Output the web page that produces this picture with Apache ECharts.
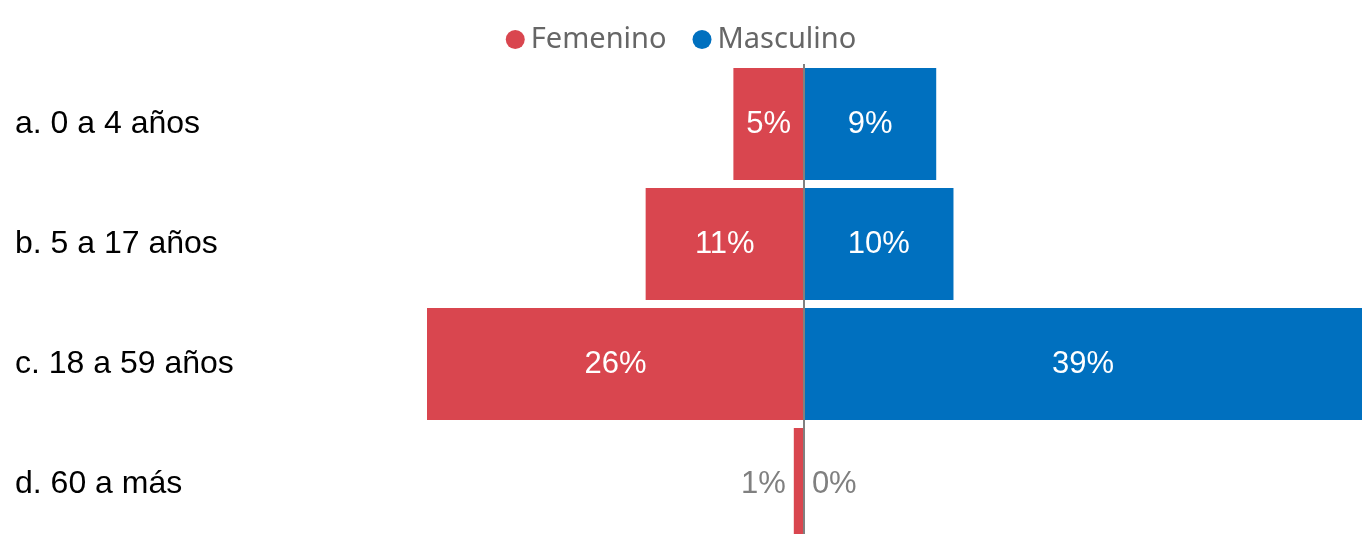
<!DOCTYPE html>
<html>
<head>
<meta charset="utf-8">
<script src="https://cdn.jsdelivr.net/npm/echarts@6/dist/echarts.min.js"></script>
<style>
  html, body { margin: 0; padding: 0; background: #fff; }
  #chart { width: 1362px; height: 534px; }
</style>
</head>
<body>
<div id="chart"></div>
<script>
    // grupos de edad y porcentajes por sexo
    var categories = ['a. 0 a 4 años', 'b. 5 a 17 años', 'c. 18 a 59 años', 'd. 60 a más'];
    var femenino = [4.9, 11.0, 26.2, 0.7];
    var masculino = [9.2, 10.4, 38.8, 0.0];
    var seriesNames = ['Femenino', 'Masculino'];

    var RED = '#D9464F';
    var BLUE = '#0070BF';

    function pct(p) {
        return Math.round(Math.abs(p.value)) + '%';
    }

    // barras muy chicas: etiqueta gris afuera
    function buildData(values, sign, side) {
        return values.map(function (v) {
            var item = { value: sign * v };
            if (Math.abs(v) < 2) {
                item.label = { position: side, color: '#808080', distance: 8 };
            }
            return item;
        });
    }

    var chart = echarts.init(document.getElementById('chart'));
    var option = {
        animation: false,
        legend: {
            data: seriesNames,
            top: 20,
            left: 'center',
            icon: 'circle',
            itemWidth: 19,
            itemHeight: 19,
            itemGap: 26,
            textStyle: {
                fontFamily: 'Noto Sans',
                fontSize: 29,
                color: '#666666',
                padding: [0, 0, 0, 1]
            }
        },
        grid: {
            left: 427,
            width: 935,
            top: 64,
            height: 480,
            outerBoundsMode: 'none',
            containLabel: false
        },
        xAxis: {
            type: 'value',
            min: -26.2,
            max: 38.8,
            show: false
        },
        yAxis: {
            type: 'category',
            data: categories,
            inverse: true,
            axisLine: { show: false },
            axisTick: { show: false },
            splitLine: { show: false },
            axisLabel: {
                align: 'left',
                margin: 412,
                padding: [5, 0, 0, 0],
                fontFamily: 'Liberation Sans',
                fontSize: 32,
                color: '#000000'
            }
        },
        series: [
            {
                name: 'Femenino',
                type: 'bar',
                barWidth: 112,
                barGap: '-100%',
                itemStyle: { color: RED },
                label: {
                    show: true,
                    position: 'inside',
                    formatter: pct,
                    fontFamily: 'Liberation Sans',
                    fontSize: 31,
                    color: '#ffffff'
                },
                data: buildData(femenino, -1, 'left')
            },
            {
                name: 'Masculino',
                type: 'bar',
                barWidth: 112,
                barGap: '-100%',
                itemStyle: { color: BLUE },
                label: {
                    show: true,
                    position: 'inside',
                    formatter: pct,
                    fontFamily: 'Liberation Sans',
                    fontSize: 31,
                    color: '#ffffff'
                },
                data: buildData(masculino, 1, 'right'),
                markLine: {
                    silent: true,
                    symbol: 'none',
                    label: { show: false },
                    lineStyle: { color: '#808080', width: 2, type: 'solid' },
                    data: [{ xAxis: 0 }]
                }
            }
        ]
    };
    chart.setOption(option);
</script>
</body>
</html>
